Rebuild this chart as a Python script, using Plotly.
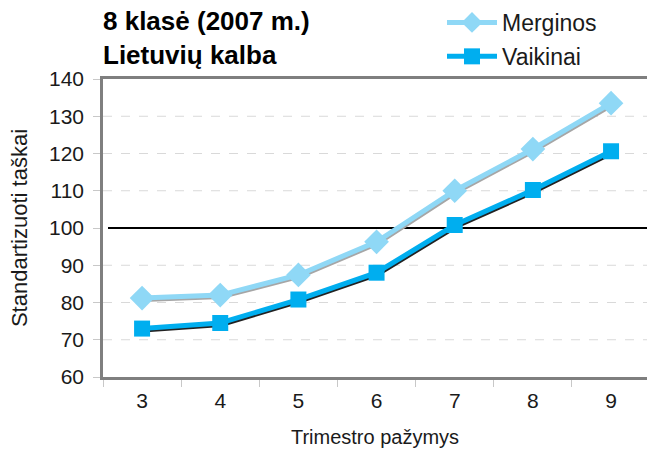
import plotly.graph_objects as go

categories = ["3", "4", "5", "6", "7", "8", "9"]
merginos = [81.2, 82.0, 87.4, 96.3, 110.0, 121.2, 133.5]
vaikinai = [73.0, 74.5, 80.8, 88.0, 100.8, 110.2, 120.6]
y_ticks = [60, 70, 80, 90, 100, 110, 120, 130, 140]
reference_line = 100

W, H = 647, 452
ML, MT, MB = 103, 79, 75
plot_w = W - ML
plot_h = H - MT - MB

xr = [-0.5, 6.46]
yr = [60, 140]
px_x = plot_w / (xr[1] - xr[0])
px_y = plot_h / (yr[1] - yr[0])
dx = 1.0 / px_x
dy = 2.0 / px_y

c_m = "#8fd8f6"
c_v = "#00aeef"
font = "Liberation Sans, Arial, sans-serif"

fig = go.Figure()

# shadows
fig.add_trace(go.Scatter(x=categories, y=merginos, xaxis="x2", yaxis="y2", mode="lines",
                         line=dict(color="#a6a6a6", width=4), showlegend=False, hoverinfo="skip"))
fig.add_trace(go.Scatter(x=categories, y=vaikinai, xaxis="x2", yaxis="y2", mode="lines",
                         line=dict(color="#222222", width=4), showlegend=False, hoverinfo="skip"))
# main series
fig.add_trace(go.Scatter(x=categories, y=merginos, xaxis="x3", yaxis="y3", mode="lines+markers",
                         name="Merginos", legendgroup="m",
                         line=dict(color=c_m, width=5),
                         marker=dict(symbol="diamond", size=19, color=c_m)))
fig.add_trace(go.Scatter(x=categories, y=vaikinai, xaxis="x3", yaxis="y3", mode="lines+markers",
                         name="Vaikinai", legendgroup="v",
                         line=dict(color=c_v, width=5),
                         marker=dict(symbol="square", size=16, color=c_v)))
# base axis dummy to make categories known
fig.add_trace(go.Scatter(x=categories, y=[None]*len(categories), xaxis="x", yaxis="y",
                         showlegend=False, hoverinfo="skip"))

# dashed grid lines (except the reference line and the frame edges)
for v in y_ticks:
    if v in (reference_line, yr[0], yr[1]):
        continue
    fig.add_shape(type="line", xref="paper", yref="y", x0=0, x1=1, y0=v, y1=v,
                  line=dict(color="#d9d9d9", width=1, dash="dash"), layer="below")

fig.add_shape(type="line", xref="paper", yref="y", x0=5 / plot_w, x1=1,
              y0=reference_line, y1=reference_line, line=dict(color="black", width=2), layer="below")

fig.update_layout(
    width=W, height=H,
    margin=dict(l=ML, r=0, t=MT, b=MB, autoexpand=False),
    paper_bgcolor="white", plot_bgcolor="white",
    font=dict(family=font, color="#1a1a1a"),
    xaxis=dict(type="category", categoryorder="array", categoryarray=categories,
               range=xr, showline=True, mirror=True, linecolor="#7f7f7f", linewidth=2.5,
               showgrid=False, ticks="outside", tickson="boundaries", ticklen=7,
               tickcolor="#c8c8c8", tickfont=dict(size=21, family=font, color="#1a1a1a"),
               ticklabelstandoff=3,
               title=dict(text="Trimestro pažymys", font=dict(size=20, family=font), standoff=20),
               zeroline=False, automargin=False),
    yaxis=dict(range=yr, tickvals=y_ticks, showline=True, mirror=False, linecolor="#7f7f7f",
               linewidth=2.5, showgrid=False,
               ticks="outside", ticklen=7, tickcolor="#c8c8c8",
               tickfont=dict(size=21, family=font, color="#1a1a1a"),
               ticklabelstandoff=5,
               title=dict(text="Standartizuoti taškai", font=dict(size=22, family=font), standoff=16),
               zeroline=False, automargin=False),
    xaxis2=dict(type="category", categoryorder="array", categoryarray=categories,
                range=[xr[0] - dx, xr[1] - dx], overlaying="x", visible=False),
    yaxis2=dict(range=[yr[0] + dy, yr[1] + dy], overlaying="y", visible=False),
    xaxis3=dict(type="category", categoryorder="array", categoryarray=categories,
                range=xr, overlaying="x", visible=False),
    yaxis3=dict(range=yr, overlaying="y", visible=False),
    legend=dict(x=(442 - ML) / plot_w, xanchor="left", y=(plot_h + MT - 1) / plot_h, yanchor="top",
                font=dict(size=23, family=font, color="#1a1a1a"), tracegroupgap=1,
                bgcolor="rgba(0,0,0,0)", itemwidth=50),
    showlegend=True,
)

fig.add_annotation(text="<b>8 klasė (2007 m.)</b>", xref="paper", yref="paper",
                   x=0, y=(plot_h + MT - 21) / plot_h, xanchor="left", yanchor="middle",
                   xshift=-2, showarrow=False, font=dict(size=26, family=font, color="black"))
fig.add_annotation(text="<b>Lietuvių kalba</b>", xref="paper", yref="paper",
                   x=0, y=(plot_h + MT - 55) / plot_h, xanchor="left", yanchor="middle",
                   xshift=-2, showarrow=False, font=dict(size=26, family=font, color="black"))

fig.write_html("out.html", config={"displayModeBar": False},
               post_script="document.body.style.margin='0px';")
